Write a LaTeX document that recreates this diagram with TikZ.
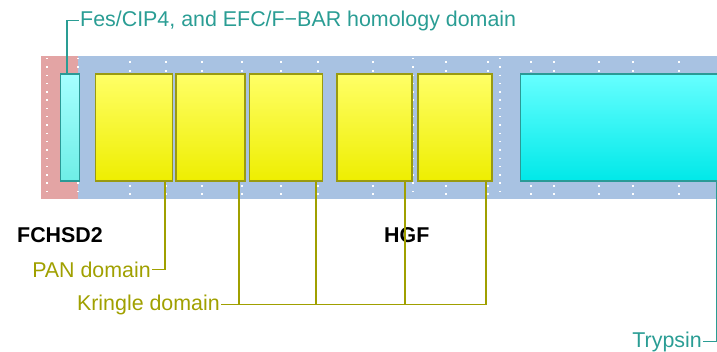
\documentclass[tikz,border=0pt]{standalone}
\usepackage{fontspec}
\setmainfont{Liberation Sans}
\definecolor{pinkbg}{HTML}{E3A4A4}
\definecolor{bluebg}{HTML}{A8C2E2}
\definecolor{ytop}{HTML}{FFFF66}
\definecolor{ybot}{HTML}{EEEE00}
\definecolor{yedge}{HTML}{9A9A10}
\definecolor{ctopA}{HTML}{A6FFFF}
\definecolor{cbotA}{HTML}{6EEEE6}
\definecolor{ctopB}{HTML}{66FFFF}
\definecolor{cbotB}{HTML}{00E8E8}
\definecolor{cedge}{HTML}{2A9A96}
\definecolor{tealtxt}{HTML}{2A9D94}
\definecolor{olivetxt}{HTML}{A0A000}
\tikzset{
  ybox/.style={draw=yedge, line width=1.7pt, top color=ytop, bottom color=ybot, anchor=north west, inner sep=0pt},
  cboxA/.style={draw=cedge, line width=1.7pt, top color=ctopA, bottom color=cbotA, anchor=north west, inner sep=0pt},
  cboxB/.style={draw=cedge, line width=1.7pt, top color=ctopB, bottom color=cbotB, anchor=north west, inner sep=0pt},
  tlab/.style={text=tealtxt, font=\fontsize{21.4}{25}\selectfont, inner sep=1pt},
  olab/.style={text=olivetxt, font=\fontsize{21.4}{25}\selectfont, inner sep=1pt},
  blab/.style={font=\fontsize{21.4}{25}\selectfont\bfseries, inner sep=0pt},
  tline/.style={draw=tealtxt, line width=1.8pt},
  oline/.style={draw=olivetxt, line width=1.8pt},
  dotcol/.style={draw=white, line width=1.4pt, dash pattern=on 1.4pt off 6.9pt},
}
\begin{document}
\begin{tikzpicture}[x=1pt, y=-1pt]
\useasboundingbox (0,0) rectangle (717,352);
% backgrounds
\fill[pinkbg] (41,56) rectangle (78,199);
\fill[bluebg] (78,56) rectangle (717,199);
% dotted grid
\foreach \x in {47,78,413,500} \draw[dotcol] (\x,58) -- (\x,199);
\foreach \x in {130,166,202,242,281,318,373,446,488,531,554,599,633,679}
  \foreach \y in {62,71,186,194} \fill[white] (\x-0.7,\y-0.7) rectangle (\x+0.7,\y+0.7);
% boxes
\node[cboxA, minimum width=19pt, minimum height=107pt] (c1) at (59.5,73.5) {};
\node[ybox, minimum width=77pt, minimum height=107pt] (y1) at (94.5,73.5) {};
\node[ybox, minimum width=69pt, minimum height=107pt] (y2) at (175,73.5) {};
\node[ybox, minimum width=73pt, minimum height=107pt] (y3) at (248.5,73.5) {};
\node[ybox, minimum width=75pt, minimum height=107pt] (y4) at (336,73.5) {};
\node[ybox, minimum width=74pt, minimum height=107pt] (y5) at (417,73.5) {};
\node[cboxB, minimum width=197pt, minimum height=107pt] (c2) at (519.5,73.5) {};
% labels
\node[tlab, anchor=west] (fes) at (79,20.5) {Fes/CIP4, and EFC/F−BAR homology domain};
\node[olab, anchor=east] (pan) at (152,269.5) {PAN domain};
\node[olab, anchor=east] (kri) at (221,304.5) {Kringle domain};
\node[tlab, anchor=east] (try) at (703,341.5) {Trypsin};
\node[blab, anchor=west] (fch) at (17,235.5) {FCHSD2};
\node[blab, anchor=west] (hgf) at (384,235.5) {HGF};
% connectors
\coordinate (cfes) at ([xshift=-3pt]c1.north);
\draw[tline] (cfes) |- (fes.west);
\coordinate (cpan) at ([xshift=-8pt]y1.south east);
\draw[oline] (cpan) |- (pan.east);
\coordinate (ck2) at ([xshift=-6.5pt]y2.south east);
\coordinate (ck3) at ([xshift=-7.5pt]y3.south east);
\coordinate (ck4) at ([xshift=-7.5pt]y4.south east);
\coordinate (ck5) at ([xshift=-7pt]y5.south east);
\draw[oline] (kri.east) -| (ck5);
\draw[oline] (ck2) -- (ck2 |- kri.east);
\draw[oline] (ck3) -- (ck3 |- kri.east);
\draw[oline] (ck4) -- (ck4 |- kri.east);
\coordinate (ctry) at ([xshift=-1pt]c2.south east);
\draw[tline] (ctry) |- (try.east);
\end{tikzpicture}
\end{document}
